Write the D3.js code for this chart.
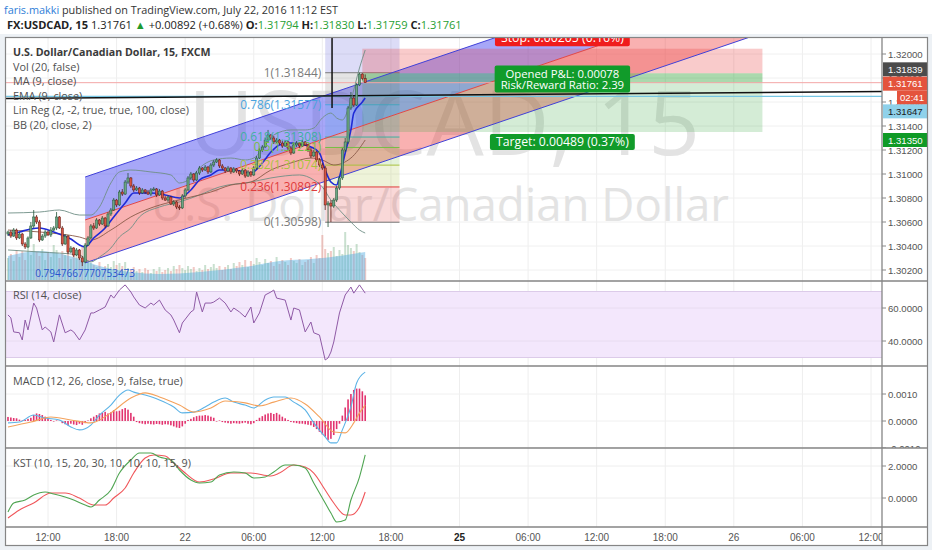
<!DOCTYPE html>
<html>
<head>
<meta charset="utf-8">
<title>USDCAD 15</title>
<script src="https://cdn.jsdelivr.net/npm/d3@7"></script>
<style>
  html, body { margin: 0; padding: 0; background: #fff; }
  svg { display: block; }
</style>
</head>
<body>
<div id="chart"></div>
<script>
// ---- 15 min bars, index 0 = Jul 21 08:30 ----
const opens = [
  1.30500, 1.30517, 1.30483, 1.30533, 1.30467, 1.30500, 1.30417, 1.30392, 1.30467, 1.30567,
  1.30642, 1.30600, 1.30450, 1.30483, 1.30517, 1.30492, 1.30533, 1.30550, 1.30642, 1.30550,
  1.30417, 1.30483, 1.30350, 1.30383, 1.30325, 1.30367, 1.30300, 1.30267, 1.30408, 1.30467,
  1.30567, 1.30550, 1.30617, 1.30583, 1.30633, 1.30567, 1.30667, 1.30700, 1.30783, 1.30742,
  1.30850, 1.30833, 1.30933, 1.30967, 1.30900, 1.30867, 1.30883, 1.30842, 1.30867, 1.30850,
  1.30833, 1.30867, 1.30875, 1.30825, 1.30858, 1.30800, 1.30783, 1.30808, 1.30750, 1.30767,
  1.30725, 1.30717, 1.30817, 1.30867, 1.30967, 1.31000, 1.30950, 1.31008, 1.31050, 1.31033,
  1.31058, 1.31017, 1.31075, 1.31100, 1.31117, 1.31067, 1.31050, 1.31025, 1.31050, 1.31017,
  1.31042, 1.31025, 1.31000, 1.31033, 1.30983, 1.31017, 1.30992, 1.31050, 1.31133, 1.31200,
  1.31225, 1.31283, 1.31325, 1.31300, 1.31267, 1.31283, 1.31258, 1.31233, 1.31267, 1.31217,
  1.31175, 1.31242, 1.31258, 1.31233, 1.31267, 1.31242, 1.31200, 1.31150, 1.31183, 1.31117,
  1.31075, 1.31050, 1.30742, 1.30758, 1.30733, 1.30783, 1.30883, 1.30967, 1.31200, 1.31267,
  1.31550, 1.31633, 1.31575, 1.31742, 1.31833, 1.31794];
const highs = [
  1.30527, 1.30533, 1.30550, 1.30545, 1.30517, 1.30510, 1.30433, 1.30480, 1.30600, 1.30700,
  1.30658, 1.30617, 1.30500, 1.30533, 1.30528, 1.30558, 1.30567, 1.30683, 1.30650, 1.30567,
  1.30500, 1.30492, 1.30400, 1.30392, 1.30383, 1.30375, 1.30317, 1.30425, 1.30483, 1.30583,
  1.30592, 1.30633, 1.30625, 1.30650, 1.30642, 1.30683, 1.30717, 1.30800, 1.30792, 1.30867,
  1.30875, 1.30950, 1.31008, 1.30975, 1.30917, 1.30900, 1.30892, 1.30883, 1.30875, 1.30867,
  1.30883, 1.30892, 1.30883, 1.30875, 1.30867, 1.30817, 1.30825, 1.30817, 1.30783, 1.30775,
  1.30742, 1.30833, 1.30883, 1.30983, 1.31017, 1.31008, 1.31025, 1.31067, 1.31058, 1.31075,
  1.31067, 1.31092, 1.31117, 1.31133, 1.31125, 1.31083, 1.31058, 1.31067, 1.31058, 1.31058,
  1.31050, 1.31033, 1.31050, 1.31042, 1.31033, 1.31025, 1.31067, 1.31150, 1.31217, 1.31242,
  1.31300, 1.31367, 1.31333, 1.31317, 1.31300, 1.31292, 1.31275, 1.31283, 1.31275, 1.31233,
  1.31258, 1.31275, 1.31267, 1.31283, 1.31275, 1.31250, 1.31217, 1.31200, 1.31192, 1.31133,
  1.31092, 1.31067, 1.30775, 1.30783, 1.30800, 1.30900, 1.30983, 1.31217, 1.31300, 1.31567,
  1.31683, 1.31650, 1.31758, 1.31844, 1.31840, 1.31830];
const lows = [
  1.30483, 1.30467, 1.30475, 1.30450, 1.30458, 1.30400, 1.30375, 1.30383, 1.30458, 1.30550,
  1.30583, 1.30433, 1.30442, 1.30467, 1.30483, 1.30475, 1.30525, 1.30533, 1.30542, 1.30400,
  1.30408, 1.30333, 1.30342, 1.30308, 1.30317, 1.30283, 1.30233, 1.30258, 1.30400, 1.30458,
  1.30533, 1.30542, 1.30567, 1.30575, 1.30550, 1.30558, 1.30650, 1.30692, 1.30725, 1.30733,
  1.30817, 1.30825, 1.30917, 1.30883, 1.30850, 1.30858, 1.30825, 1.30833, 1.30833, 1.30825,
  1.30817, 1.30858, 1.30808, 1.30817, 1.30783, 1.30775, 1.30767, 1.30742, 1.30733, 1.30708,
  1.30700, 1.30708, 1.30800, 1.30858, 1.30950, 1.30933, 1.30942, 1.30992, 1.31017, 1.31025,
  1.31000, 1.31008, 1.31058, 1.31092, 1.31050, 1.31033, 1.31008, 1.31017, 1.31000, 1.31008,
  1.31008, 1.30983, 1.30992, 1.30967, 1.30975, 1.30975, 1.30983, 1.31033, 1.31125, 1.31183,
  1.31217, 1.31267, 1.31283, 1.31250, 1.31258, 1.31242, 1.31217, 1.31225, 1.31200, 1.31158,
  1.31167, 1.31225, 1.31217, 1.31225, 1.31233, 1.31183, 1.31133, 1.31142, 1.31100, 1.31058,
  1.31033, 1.30700, 1.30558, 1.30600, 1.30717, 1.30767, 1.30867, 1.30950, 1.31183, 1.31250,
  1.31533, 1.31558, 1.31567, 1.31733, 1.31780, 1.31759];
const closes = [
  1.30517, 1.30483, 1.30533, 1.30467, 1.30500, 1.30417, 1.30392, 1.30467, 1.30567, 1.30642,
  1.30600, 1.30450, 1.30483, 1.30517, 1.30492, 1.30533, 1.30550, 1.30642, 1.30550, 1.30417,
  1.30483, 1.30350, 1.30383, 1.30325, 1.30367, 1.30300, 1.30267, 1.30408, 1.30467, 1.30567,
  1.30550, 1.30617, 1.30583, 1.30633, 1.30567, 1.30667, 1.30700, 1.30783, 1.30742, 1.30850,
  1.30833, 1.30933, 1.30967, 1.30900, 1.30867, 1.30883, 1.30842, 1.30867, 1.30850, 1.30833,
  1.30867, 1.30875, 1.30825, 1.30858, 1.30800, 1.30783, 1.30808, 1.30750, 1.30767, 1.30725,
  1.30717, 1.30817, 1.30867, 1.30967, 1.31000, 1.30950, 1.31008, 1.31050, 1.31033, 1.31058,
  1.31017, 1.31075, 1.31100, 1.31117, 1.31067, 1.31050, 1.31025, 1.31050, 1.31017, 1.31042,
  1.31025, 1.31000, 1.31033, 1.30983, 1.31017, 1.30992, 1.31050, 1.31133, 1.31200, 1.31225,
  1.31283, 1.31325, 1.31300, 1.31267, 1.31283, 1.31258, 1.31233, 1.31267, 1.31217, 1.31175,
  1.31242, 1.31258, 1.31233, 1.31267, 1.31242, 1.31200, 1.31150, 1.31183, 1.31117, 1.31075,
  1.31050, 1.30742, 1.30758, 1.30733, 1.30783, 1.30883, 1.30967, 1.31200, 1.31267, 1.31550,
  1.31633, 1.31575, 1.31742, 1.31833, 1.31794, 1.31761];
const volumes = [
  44, 52, 38, 60, 46, 58, 40, 66, 50, 72,
  56, 48, 62, 40, 54, 46, 70, 60, 44, 58,
  50, 64, 42, 56, 48, 60, 68, 52, 40, 34,
  30, 26, 36, 22, 28, 32, 26, 38, 30, 34,
  28, 36, 24, 20, 26, 18, 22, 16, 24, 20,
  14, 22, 18, 26, 16, 20, 24, 18, 28, 22,
  30, 24, 20, 28, 22, 26, 18, 24, 20, 30,
  22, 26, 32, 24, 28, 20, 26, 30, 22, 34,
  28, 36, 30, 40, 26, 38, 32, 44, 36, 30,
  42, 34, 38, 28, 46, 32, 40, 36, 30, 44,
  38, 34, 42, 30, 36, 40, 46, 34, 50, 44,
  90, 62, 54, 58, 66, 48, 60, 52, 96, 70,
  64, 58, 72, 56, 50, 44];
const macdHist = [
  0.00015, 0.00013, 0.00011, 0.0001, 0.00005, 0.00002, 0.00004, 0.00008,
  0.00012, 0.00022, 0.00028, 0.00026, 0.00022, 0.00016, 0.0001,
  0.00004, -0.00002, 0.00002, 0.00001,
  -0.00008, -0.00012, -0.00016, -0.0001, -0.00013, -0.00015, -0.0001, -0.00014, -0.00008,
  0.00002, 0.0001, 0.00016, 0.00022, 0.00028, 0.0003, 0.00034, 0.00028, 0.00032, 0.0004,
  0.00036, 0.00038, 0.00044, 0.00048, 0.00042, 0.0003, 0.00016,
  -0.00004, -0.00008, -0.0001, -0.00012, -0.0001, -0.00012, -0.00013, -0.00011, -0.00012,
  -0.00014, -0.00012, -0.00013, -0.00016, -0.0002, -0.00024, -0.00026, -0.0002, -0.0001,
  0.00004, 0.00008, 0.00014, 0.00018, 0.0002, 0.0002, 0.00022, 0.0002, 0.00016, 0.00012,
  -0.00002, 0.00002, -0.00004, -0.00006, -0.00008, -0.0001, -0.00008, -0.00009, -0.0001,
  -0.00008, -0.00006, -0.0001, -0.00012, -0.00008,
  0.00004, 0.00012, 0.00018, 0.00024, 0.00028, 0.0003, 0.00026, 0.0003, 0.00024, 0.00016,
  0.0001, 0.00004,
  -0.00004, -0.00006, -0.00008, -0.0001, -0.0001, -0.00012, -0.00014, -0.00016,
  -0.00022, -0.0003, -0.0004, -0.0005, -0.00058, -0.0007, -0.00066, -0.00052, -0.0003,
  -0.0001, 0.0002, 0.0005, 0.0008, 0.001, 0.00115, 0.0012, 0.0012, 0.0011, 0.00095];

// indicator readings (bar index, value)
const maIdx = [0, 4, 8, 11, 16, 22, 25, 27, 30, 34, 37, 41, 44, 50, 55, 60, 64, 67, 71, 74,
  79, 85, 89, 92, 95, 99, 102, 106, 109, 111, 113, 115, 116, 118, 120, 121, 124, 125];
const maVal = [1.30492, 1.30517, 1.30542, 1.30550, 1.30517, 1.30458, 1.30408, 1.30392, 1.30467, 1.30550,
  1.30642, 1.30758, 1.30842, 1.30842, 1.30825, 1.30800, 1.30867, 1.30950, 1.30992, 1.31033,
  1.31033, 1.31008, 1.31092, 1.31183, 1.31242, 1.31258, 1.31250, 1.31225, 1.31175, 1.31033,
  1.30933, 1.30908, 1.30975, 1.31175, 1.31367, 1.31508, 1.31600, 1.31633];
const bbUpIdx = [0, 11, 18, 25, 29, 32, 36, 39, 43, 50, 57, 60, 64, 67, 72, 78, 83, 86, 90, 93,
  99, 104, 107, 110, 113, 115, 117, 120, 123, 125];
const bbUpVal = [1.30675, 1.30683, 1.30700, 1.30658, 1.30658, 1.30725, 1.30925, 1.31017, 1.31033, 1.31017,
  1.30992, 1.30925, 1.30967, 1.31050, 1.31117, 1.31133, 1.31117, 1.31133, 1.31242, 1.31325,
  1.31367, 1.31367, 1.31383, 1.31467, 1.31508, 1.31467, 1.31450, 1.31617, 1.31883, 1.32033];
const bbLoIdx = [0, 11, 25, 29, 32, 36, 39, 43, 46, 53, 60, 67, 74, 85, 92, 102, 107, 110, 113, 116,
  120, 123, 125];
const bbLoVal = [1.30367, 1.30350, 1.30325, 1.30267, 1.30308, 1.30383, 1.30475, 1.30550, 1.30642, 1.30725,
  1.30767, 1.30825, 1.30892, 1.30933, 1.30967, 1.30992, 1.30950, 1.30892, 1.30783, 1.30700,
  1.30600, 1.30533, 1.30508];
const bbMidIdx = [0, 15, 25, 29, 36, 43, 50, 57, 64, 71, 78, 85, 92, 99, 106, 110, 114, 120, 125];
const bbMidVal = [1.30533, 1.30508, 1.30475, 1.30450, 1.30533, 1.30642, 1.30717, 1.30767, 1.30808, 1.30850,
  1.30908, 1.30933, 1.31033, 1.31092, 1.31133, 1.31117, 1.31075, 1.31133, 1.31283];
const volMaIdx = [0, 11, 25, 32, 43, 53, 67, 85, 95, 106, 116, 125];
const volMaVal = [48, 58, 42, 28, 16, 12, 16, 28, 38, 42, 48, 56];

const rsiIdx = [0, 1, 2, 4, 5, 6, 7, 9, 10, 12, 13, 15, 16, 18, 20, 22, 23, 25, 27, 29,
  30, 32, 34, 36, 37, 39, 41, 43, 44, 46, 48, 50, 51, 53, 55, 57, 58, 60, 61, 64,
  65, 66, 68, 69, 71, 72, 74, 76, 78, 79, 81, 83, 85, 86, 88, 90, 92, 93, 94, 97,
  99, 100, 102, 104, 106, 107, 109, 111, 112, 113, 114, 116, 118, 120, 121, 123, 125];
const rsiVal = [55.8, 54, 45.5, 45, 40.6, 52.7, 46.7, 63, 60, 46.7, 48.5, 45.5, 39.4, 55.8, 45, 46.7, 45.5, 40.6, 46.7, 57,
  57, 58.8, 60.6, 67.9, 66, 70.9, 74, 69.7, 66.7, 61.8, 60, 63, 61.8, 64.8, 58.8, 55.8, 52.7, 45, 50.9, 57.6,
  58.8, 69.7, 57.6, 63, 63, 63.6, 66, 63, 57.6, 60, 57.6, 54.5, 60.6, 50.9, 57, 67.9, 69.7, 70.9, 66, 64.8,
  52.7, 60, 58.8, 45.5, 51.5, 45, 43.6, 28.5, 29.7, 33.3, 39.4, 57, 67.9, 72.7, 69, 74, 69];

const macdIdx = [0, 4, 9, 13, 18, 22, 25, 29, 32, 36, 39, 42, 44, 48, 53, 58, 61, 65, 69, 72,
  76, 79, 83, 86, 90, 93, 97, 100, 104, 107, 111, 113, 115, 117, 120, 122, 125];
const macdVal = [-0.00007, -0.00004, 0.00022, 0.00011, 0.00004, -0.00022, -0.00033, -0.00015, 0.00022, 0.00059,
  0.00096, 0.00115, 0.00107, 0.00096, 0.00078, 0.00052, 0.0003, 0.00033, 0.00052, 0.0007,
  0.00085, 0.0007, 0.00059, 0.00048, 0.00078, 0.00089, 0.00089, 0.0007, 0.00041, -0.00007,
  -0.00059, -0.00081, -0.00081, -0.00033, 0.00052, 0.00141, 0.00181];
const signalIdx = [0, 8, 15, 22, 29, 36, 43, 48, 53, 60, 65, 71, 76, 83, 88, 93, 99, 104, 109, 114,
  118, 121, 123, 125];
const signalVal = [-0.00022, -0.00004, 0.00015, 0.00004, -0.00007, 0.0003, 0.00085, 0.00104, 0.00089, 0.00059,
  0.00033, 0.00048, 0.00074, 0.00067, 0.00056, 0.0007, 0.00085, 0.00063, 0.00015, -0.00041,
  -0.00044, -0.00007, 0.0003, 0.00059];

const kstIdx = [0, 2, 6, 9, 13, 16, 20, 23, 27, 29, 32, 36, 39, 43, 46, 50, 53, 57, 60, 64,
  67, 71, 74, 79, 83, 86, 90, 93, 97, 100, 104, 107, 110, 113, 115, 118, 120, 123, 125];
const kstVal = [-0.875, -0.31, -0.125, 0.19, 0.375, 0.25, 0.06, -0.125, -0.44, -0.56,
  -0.125, 0.5, 1.56, 2.375, 2.81, 2.81, 2.56, 2.375, 1.75, 1.125,
  0.94, 1.0, 1.44, 1.625, 1.56, 1.25, 1.31, 1.625, 2.06, 2.06,
  1.875, 0.94, 0, -0.94, -1.5, -1.375, -0.125, 1.31, 2.69];
const kstSigIdx = [0, 4, 9, 15, 20, 25, 30, 34, 37, 41, 44, 48, 51, 55, 58, 62, 67, 72, 78, 85,
  92, 95, 100, 104, 107, 111, 114, 118, 120, 123, 125];
const kstSigVal = [-1.25, -0.75, -0.31, 0.31, 0.31, 0, -0.44, -0.44, 0, 0.625,
  1.56, 2.5, 2.69, 2.625, 2.19, 1.56, 1.0, 1.19, 1.56, 1.56,
  1.375, 1.56, 2.06, 1.94, 1.56, 0.5, -0.31, -1.06, -1.06, -0.56, 0.375];

// drawings
const linRegIdx = [27, 125];
const linRegMid = [1.30617, 1.31410];
const linRegDev = 0.00358;
const pearsonR = "0.7947667770753473";
const fibLevels = [0, 0.236, 0.382, 0.5, 0.618, 0.786, 1, 1.618];
const fibPrices = [1.30598, 1.30892, 1.31074, 1.31221, 1.31308, 1.31577, 1.31844, 1.32614];
const fibColors = ["#7a7a7a", "#e03c3c", "#a9c23f", "#76bf45", "#3fb0a0", "#4aa3df", "#7a7a7a", "#5252d6"];
const fibIdx = [111, 137];
const posIdx = [124, 264];
const posEntry = 1.31839, posStop = 1.32044, posTarget = 1.31350;
const lastPrice = 1.31761;
const levelLine = 1.31647;
const trendIdx = [-1, 306];
const trendPrice = [1.31629, 1.31688];
const vLineIdx = 113.4;
const vLinePrice = [1.3225, 1.31550];

// axes
const priceTicks = [1.302, 1.304, 1.306, 1.308, 1.310, 1.312, 1.314, 1.316, 1.318, 1.320];
const rsiTicks = [40, 60];
const macdTicks = [-0.001, 0, 0.001];
const kstTicks = [0, 2];
const timeTickIdx = [14, 38, 62, 86, 110, 134, 158, 182, 206, 230, 254, 278, 302];
const timeTickText = ["12:00", "18:00", "22", "06:00", "12:00", "18:00", "25", "06:00", "12:00", "18:00", "26", "06:00", "12:00"];
const weekStarts = ["25"];

const priceTags = [
  { text: "1.31839", price: 1.31839, bg: "#4b4b4b", fg: "#fff" },
  { text: "1.31761", price: 1.31761, bg: "#e4533d", fg: "#fff" },
  { text: "02:41", price: 1.31761, bg: "#e4533d", fg: "#fff" },
  { text: "1.31647", price: 1.31647, bg: "#8fd1ea", fg: "#1a1a1a" },
  { text: "1.31350", price: 1.31350, bg: "#0f9a26", fg: "#fff" }
];

// ---------------- layout ----------------
const W = 932, H = 550;
const plotL = 5, plotR = 882, axisR = 928;
const panes = {
  main: { top: 37, bottom: 281 },
  rsi: { top: 281, bottom: 366 },
  macd: { top: 366, bottom: 448 },
  kst: { top: 448, bottom: 527 }
};
const timeBottom = 546;
const tagNudge = [-4, 1, 15, 15, 8];

const svg = d3.select("#chart").append("svg")
  .attr("width", W).attr("height", H)
  .style("font-family", "'Open Sans', 'Noto Sans', sans-serif");

// scales
const x = d3.scaleLinear().domain([14, 302]).range([48, 871]);
const y = d3.scaleLinear().domain([1.302, 1.320]).range([270, 54]);
const yVol = d3.scaleLinear().domain([0, 100]).range([280, 230]);
const yRsi = d3.scaleLinear().domain([40, 60]).range([341, 308]);
const yMacd = d3.scaleLinear().domain([0, 0.001]).range([421, 394]);
const yKst = d3.scaleLinear().domain([0, 2]).range([498, 466]);

function fitWidth(sel, target) {
  const len = sel.node().getComputedTextLength();
  if (len > 0) sel.attr("font-size", +sel.attr("font-size") * target / len);
  return sel;
}

// backgrounds
svg.append("rect").attr("width", W).attr("height", H).attr("fill", "#fff");
svg.append("rect").attr("x", 0).attr("y", 34).attr("width", W).attr("height", H - 34).attr("fill", "#edf1f5");
svg.append("rect").attr("x", plotL).attr("y", panes.main.top)
  .attr("width", axisR - plotL).attr("height", timeBottom - panes.main.top).attr("fill", "#fff");

// clip paths
const defs = svg.append("defs");
Object.entries(panes).forEach(([k, p]) => {
  defs.append("clipPath").attr("id", "clip-" + k).append("rect")
    .attr("x", plotL).attr("y", p.top).attr("width", plotR - plotL).attr("height", p.bottom - p.top);
  defs.append("clipPath").attr("id", "clipax-" + k).append("rect")
    .attr("x", plotR).attr("y", p.top).attr("width", axisR - plotR).attr("height", p.bottom - p.top);
});
defs.append("clipPath").attr("id", "clip-time").append("rect")
  .attr("x", plotL).attr("y", panes.kst.bottom).attr("width", plotR - plotL).attr("height", timeBottom - panes.kst.bottom);

// header
const h1 = svg.append("text").attr("x", 4).attr("y", 14).attr("font-size", 12).attr("fill", "#333");
h1.append("tspan").attr("fill", "#2f7ed8").text("faris.makki");
h1.append("tspan").text(" published on TradingView.com, July 22, 2016 11:12 EST");
fitWidth(h1, 334);

const h2 = svg.append("text").attr("x", 7).attr("y", 29).attr("font-size", 12).attr("fill", "#222");
const h2parts = [
  ["FX:USDCAD, 15", "bold", "#222"], [" 1.31761 ", "normal", "#222"], ["\u25B2", "normal", "#1e9a2e"],
  [" +0.00892 (+0.68%) ", "normal", "#222"], ["O:", "bold", "#222"], ["1.31794", "normal", "#27a033"],
  [" H:", "bold", "#222"], ["1.31830", "normal", "#27a033"], [" L:", "bold", "#222"], ["1.31759", "normal", "#27a033"],
  [" C:", "bold", "#222"], ["1.31761", "normal", "#27a033"]
];
h2parts.forEach(p => h2.append("tspan").attr("font-weight", p[1]).attr("fill", p[2]).text(p[0]));
fitWidth(h2, 455);

// vertical grid lines through all panes
const gridG = svg.append("g");
gridG.selectAll("line.vg").data(timeTickIdx).join("line")
  .attr("x1", d => x(d)).attr("x2", d => x(d))
  .attr("y1", panes.main.top).attr("y2", panes.kst.bottom)
  .attr("stroke", "#eeeeee").attr("stroke-width", 1);

// ================= MAIN PANE =================
const main = svg.append("g").attr("clip-path", "url(#clip-main)");
main.selectAll("line.hg").data(priceTicks).join("line")
  .attr("x1", plotL).attr("x2", plotR).attr("y1", d => y(d)).attr("y2", d => y(d))
  .attr("stroke", "#f0f0f0");

// watermark
const wm1 = main.append("text").attr("x", 444).attr("y", 155).attr("text-anchor", "middle")
  .attr("font-size", 80).attr("fill", "#e3e3e3").attr("font-family", "'Open Sans', sans-serif").text("USDCAD, 15");
fitWidth(wm1, 512);
const wm2 = main.append("text").attr("x", 440).attr("y", 221).attr("text-anchor", "middle")
  .attr("font-size", 42).attr("fill", "#e3e3e3").attr("font-family", "'Open Sans', sans-serif").text("U.S. Dollar/Canadian Dollar");
fitWidth(wm2, 578);

const bars = closes.map((c, i) => ({ i, o: opens[i], h: highs[i], l: lows[i], c, v: volumes[i], hist: macdHist[i] }));

// volume
main.append("g").selectAll("rect").data(bars).join("rect")
  .attr("x", d => x(d.i) - 1).attr("width", 2)
  .attr("y", d => yVol(d.v)).attr("height", d => yVol(0) - yVol(d.v))
  .attr("fill", d => d.c >= d.o ? "rgba(90,160,110,0.33)" : "rgba(215,90,80,0.33)");
main.append("path").datum(d3.zip(volMaIdx, volMaVal))
  .attr("d", d3.area().x(d => x(d[0])).y0(yVol(0)).y1(d => yVol(d[1])).curve(d3.curveMonotoneX))
  .attr("fill", "rgba(80,170,225,0.45)");

// linear regression channel (extended to the right)
const lrSlope = (linRegMid[1] - linRegMid[0]) / (linRegIdx[1] - linRegIdx[0]);
const lrPts = [linRegIdx[0], 306].map(i => [i, linRegMid[0] + lrSlope * (i - linRegIdx[0])]);
main.append("path").datum(lrPts)
  .attr("d", d3.area().x(d => x(d[0])).y0(d => y(d[1])).y1(d => y(d[1] + linRegDev)))
  .attr("fill", "rgba(60,60,240,0.45)");
main.append("path").datum(lrPts)
  .attr("d", d3.area().x(d => x(d[0])).y0(d => y(d[1] - linRegDev)).y1(d => y(d[1])))
  .attr("fill", "rgba(240,60,60,0.40)");

// fibonacci bands
const fibG = main.append("g");
d3.range(fibLevels.length - 1).forEach(k => {
  fibG.append("rect")
    .attr("x", x(fibIdx[0])).attr("width", x(fibIdx[1]) - x(fibIdx[0]))
    .attr("y", y(fibPrices[k + 1])).attr("height", y(fibPrices[k]) - y(fibPrices[k + 1]))
    .attr("fill", fibColors[k + 1]).attr("fill-opacity", 0.2);
});

// short position tool
const px0 = x(posIdx[0]), pxw = x(posIdx[1]) - x(posIdx[0]);
main.append("rect").attr("x", px0).attr("width", pxw)
  .attr("y", y(posStop)).attr("height", y(posEntry) - y(posStop)).attr("fill", "rgba(235,70,70,0.28)");
main.append("rect").attr("x", px0).attr("width", pxw)
  .attr("y", y(posEntry)).attr("height", y(posTarget) - y(posEntry)).attr("fill", "rgba(60,170,70,0.22)");
main.append("rect").attr("x", px0).attr("width", pxw)
  .attr("y", y(posEntry)).attr("height", y(lastPrice) - y(posEntry)).attr("fill", "rgba(60,170,70,0.28)");

// channel lines
const lineOf = (dy) => d3.line().x(d => x(d[0])).y(d => y(d[1] + dy));
main.append("path").datum(lrPts).attr("d", lineOf(linRegDev)).attr("fill", "none").attr("stroke", "#4040d8").attr("stroke-width", 1);
main.append("path").datum(lrPts).attr("d", lineOf(-linRegDev)).attr("fill", "none").attr("stroke", "#4040d8").attr("stroke-width", 1);
main.append("path").datum(lrPts).attr("d", lineOf(0)).attr("fill", "none").attr("stroke", "#e04848").attr("stroke-width", 1);

// fib lines
fibG.selectAll("line").data(fibPrices).join("line")
  .attr("x1", x(fibIdx[0])).attr("x2", x(fibIdx[1]))
  .attr("y1", d => y(d)).attr("y2", d => y(d))
  .attr("stroke", (d, k) => fibColors[k]).attr("stroke-width", 1);

// horizontal lines
main.append("line").attr("x1", plotL).attr("x2", plotR).attr("y1", y(lastPrice)).attr("y2", y(lastPrice))
  .attr("stroke", "#f3a6a6").attr("stroke-width", 1);
main.append("line").attr("x1", plotL).attr("x2", plotR).attr("y1", y(levelLine)).attr("y2", y(levelLine))
  .attr("stroke", "#76c6e4").attr("stroke-width", 1.2);
main.append("line").attr("x1", x(trendIdx[0])).attr("x2", x(trendIdx[1]))
  .attr("y1", y(trendPrice[0])).attr("y2", y(trendPrice[1]))
  .attr("stroke", "#111").attr("stroke-width", 1.5);

// Bollinger bands + MA
const sLine = (yS) => d3.line().x(d => x(d[0])).y(d => yS(d[1])).curve(d3.curveMonotoneX);
main.append("path").datum(d3.zip(bbUpIdx, bbUpVal)).attr("d", sLine(y)).attr("fill", "none").attr("stroke", "#6f8f86").attr("stroke-width", 0.9);
main.append("path").datum(d3.zip(bbLoIdx, bbLoVal)).attr("d", sLine(y)).attr("fill", "none").attr("stroke", "#6f8f86").attr("stroke-width", 0.9);
main.append("path").datum(d3.zip(bbMidIdx, bbMidVal)).attr("d", sLine(y)).attr("fill", "none").attr("stroke", "#8a5a48").attr("stroke-width", 0.9);
main.append("path").datum(d3.zip(maIdx, maVal)).attr("d", sLine(y)).attr("fill", "none").attr("stroke", "#1f2bd6").attr("stroke-width", 1.6);

// candles
const up = { fill: "#6ba583", edge: "#225437" }, dn = { fill: "#d75442", edge: "#5b1a13" };
const cg = main.append("g").selectAll("g").data(bars).join("g");
cg.append("line")
  .attr("x1", d => x(d.i)).attr("x2", d => x(d.i)).attr("y1", d => y(d.h)).attr("y2", d => y(d.l))
  .attr("stroke", d => d.c >= d.o ? up.edge : dn.edge).attr("stroke-width", 0.8);
cg.append("rect")
  .attr("x", d => x(d.i) - 1.1).attr("width", 2.2)
  .attr("y", d => y(Math.max(d.o, d.c))).attr("height", d => Math.max(0.8, Math.abs(y(d.o) - y(d.c))))
  .attr("fill", d => d.c >= d.o ? up.fill : dn.fill)
  .attr("stroke", d => d.c >= d.o ? up.edge : dn.edge).attr("stroke-width", 0.5);

// vertical trend line
main.append("line").attr("x1", x(vLineIdx)).attr("x2", x(vLineIdx))
  .attr("y1", y(vLinePrice[0])).attr("y2", y(vLinePrice[1]))
  .attr("stroke", "#111").attr("stroke-width", 1.5);

// fib labels (levels up to 1 are inside the pane)
const fibShown = fibPrices.map((p, k) => ({ p, k })).filter(d => fibLevels[d.k] <= 1);
const fibLab = main.append("g").selectAll("text").data(fibShown).join("text")
  .attr("x", x(fibIdx[0]) - 4).attr("y", d => y(d.p) + 4).attr("text-anchor", "end")
  .attr("font-size", 11).attr("fill", d => fibColors[d.k])
  .text(d => `${fibLevels[d.k]}(${d.p.toFixed(5)})`);
{
  const ref = fibLab.filter(d => fibLevels[d.k] === 0.786);
  const fs = 11 * 81 / ref.node().getComputedTextLength();
  fibLab.attr("font-size", fs);
}

// pearson label
const rLab = main.append("text").attr("x", x(linRegIdx[0])).attr("y", 277).attr("text-anchor", "middle")
  .attr("font-size", 11).attr("fill", "#2a55d0").text(pearsonR);
fitWidth(rLab, 100);

// position labels
function boxLabel(lines, cx, cy, bg, width) {
  const g = main.append("g");
  const rect = g.append("rect").attr("fill", bg).attr("rx", 2);
  const lh = 11;
  const ts = lines.map((t, k) => g.append("text").attr("x", cx)
    .attr("y", cy + (k - (lines.length - 1) / 2) * lh + 4)
    .attr("text-anchor", "middle").attr("font-size", 12).attr("fill", "#fff").text(t));
  const fs = 12 * width / ts[0].node().getComputedTextLength();
  ts.forEach(t => t.attr("font-size", fs));
  const w = d3.max(ts, t => t.node().getComputedTextLength()) + 12;
  const h = lines.length * lh + 5;
  rect.attr("x", cx - w / 2).attr("y", cy - h / 2).attr("width", w).attr("height", h);
}
const posCx = x((posIdx[0] + posIdx[1]) / 2);
boxLabel(["Stop: 0.00205 (0.16%)"], posCx, y(posStop) - 10.5, "#f01c1c", 123);
boxLabel(["Opened P&L: 0.00078", "Risk/Reward Ratio: 2.39"], posCx, (y(posEntry) + y(lastPrice)) / 2 + 1, "#119b2a", 114);
boxLabel(["Target: 0.00489 (0.37%)"], posCx, y(posTarget) + 10, "#119b2a", 133);

// legend
const legendG = svg.append("g");
const title = legendG.append("text").attr("x", 13).attr("y", 56).attr("font-size", 12)
  .attr("font-weight", "bold").attr("fill", "#3a3a3a").text("U.S. Dollar/Canadian Dollar, 15, FXCM");
fitWidth(title, 198);
const legendLines = ["Vol (20, false)", "MA (9, close)", "EMA (9, close)", "Lin Reg (2, -2, true, true, 100, close)", "BB (20, close, 2)"];
const legTexts = legendG.selectAll("text.leg").data(legendLines).join("text").attr("class", "leg")
  .attr("x", 13).attr("y", (d, k) => 70.5 + k * 14.6).attr("font-size", 12).attr("fill", "#505050").text(d => d);
const legFs = 12 * 176 / legTexts.filter(d => d.startsWith("Lin")).node().getComputedTextLength();
legTexts.attr("font-size", legFs);

// ================= RSI =================
const rsiG = svg.append("g").attr("clip-path", "url(#clip-rsi)");
rsiG.append("rect").attr("x", plotL).attr("width", plotR - plotL)
  .attr("y", yRsi(70)).attr("height", yRsi(30) - yRsi(70)).attr("fill", "#f3e7fc");
rsiG.selectAll("line.b").data([70, 30]).join("line")
  .attr("x1", plotL).attr("x2", plotR).attr("y1", d => yRsi(d)).attr("y2", d => yRsi(d)).attr("stroke", "#dccbe9");
rsiG.selectAll("line.g").data(rsiTicks).join("line")
  .attr("x1", plotL).attr("x2", plotR).attr("y1", d => yRsi(d)).attr("y2", d => yRsi(d)).attr("stroke", "#e8dcf0");
rsiG.append("path").datum(d3.zip(rsiIdx, rsiVal))
  .attr("d", d3.line().x(d => x(d[0])).y(d => yRsi(d[1])))
  .attr("fill", "none").attr("stroke", "#8f5aa6").attr("stroke-width", 1);

// ================= MACD =================
const macdG = svg.append("g").attr("clip-path", "url(#clip-macd)");
macdG.selectAll("line.g").data(macdTicks).join("line")
  .attr("x1", plotL).attr("x2", plotR).attr("y1", d => yMacd(d)).attr("y2", d => yMacd(d)).attr("stroke", "#f0f0f0");
macdG.append("g").selectAll("rect").data(bars).join("rect")
  .attr("x", d => x(d.i) - 0.8).attr("width", 1.6)
  .attr("y", d => Math.min(yMacd(d.hist), yMacd(0)))
  .attr("height", d => Math.abs(yMacd(d.hist) - yMacd(0)))
  .attr("fill", "#e2336f");
macdG.append("path").datum(d3.zip(macdIdx, macdVal)).attr("d", sLine(yMacd))
  .attr("fill", "none").attr("stroke", "#5cb3e6").attr("stroke-width", 1.1);
macdG.append("path").datum(d3.zip(signalIdx, signalVal)).attr("d", sLine(yMacd))
  .attr("fill", "none").attr("stroke", "#f4a25c").attr("stroke-width", 1.1);

// ================= KST =================
const kstG = svg.append("g").attr("clip-path", "url(#clip-kst)");
kstG.selectAll("line.g").data(kstTicks).join("line")
  .attr("x1", plotL).attr("x2", plotR).attr("y1", d => yKst(d)).attr("y2", d => yKst(d)).attr("stroke", "#eeeeee");
kstG.append("path").datum(d3.zip(kstSigIdx, kstSigVal)).attr("d", sLine(yKst))
  .attr("fill", "none").attr("stroke", "#f0565a").attr("stroke-width", 1.1);
kstG.append("path").datum(d3.zip(kstIdx, kstVal)).attr("d", sLine(yKst))
  .attr("fill", "none").attr("stroke", "#4fa552").attr("stroke-width", 1.1);

// pane titles
const paneTitles = [["RSI (14, close)", 299], ["MACD (12, 26, close, 9, false, true)", 385], ["KST (10, 15, 20, 30, 10, 10, 10, 15, 9)", 467]];
svg.append("g").selectAll("text").data(paneTitles).join("text")
  .attr("x", 13).attr("y", d => d[1]).attr("font-size", legFs).attr("fill", "#505050").text(d => d[0]);

// ================= right axes =================
const axisFont = "'Liberation Sans', Arial, sans-serif";
function rightAxis(key, scale, ticks, fmt) {
  const g = svg.append("g").attr("clip-path", `url(#clipax-${key})`);
  g.selectAll("line").data(ticks).join("line")
    .attr("x1", plotR).attr("x2", plotR + 4).attr("y1", d => scale(d)).attr("y2", d => scale(d)).attr("stroke", "#888");
  g.selectAll("text").data(ticks).join("text")
    .attr("x", plotR + 6).attr("y", d => scale(d) + 3.5)
    .attr("font-family", axisFont).attr("font-size", 9.6).attr("fill", "#555").text(fmt);
}
rightAxis("main", y, priceTicks, d => d.toFixed(5));
rightAxis("rsi", yRsi, rsiTicks, d => d.toFixed(4));
rightAxis("macd", yMacd, macdTicks, d => d.toFixed(4));
rightAxis("kst", yKst, kstTicks, d => d.toFixed(4));

// price tags
const tagG = svg.append("g");
priceTags.forEach((t, k) => {
  const cy = y(t.price) + tagNudge[k];
  const short = t.text.indexOf(":") >= 0;
  const x0 = short ? 897 : plotR + 1;
  tagG.append("rect").attr("x", x0).attr("y", cy - 7).attr("width", axisR - x0 - 1).attr("height", 14).attr("fill", t.bg);
  tagG.append("text").attr("x", short ? 912 : plotR + 6).attr("y", cy + 3.5)
    .attr("text-anchor", short ? "middle" : "start")
    .attr("font-family", axisFont).attr("font-size", 9.6).attr("fill", t.fg).text(t.text);
});

// time axis
const timeG = svg.append("g").attr("clip-path", "url(#clip-time)");
timeG.selectAll("text").data(timeTickIdx).join("text")
  .attr("x", d => x(d)).attr("y", 541).attr("text-anchor", "middle")
  .attr("font-family", axisFont).attr("font-size", 10)
  .attr("font-weight", (d, k) => weekStarts.includes(timeTickText[k]) ? "bold" : "normal")
  .attr("fill", (d, k) => weekStarts.includes(timeTickText[k]) ? "#222" : "#555")
  .text((d, k) => timeTickText[k]);

// frame & separators
const frame = svg.append("g").attr("stroke", "#858585").attr("fill", "none");
frame.append("rect").attr("x", plotL + 0.5).attr("y", panes.main.top + 0.5)
  .attr("width", axisR - plotL - 1).attr("height", timeBottom - panes.main.top - 1).attr("stroke-width", 1.2);
frame.append("line").attr("x1", plotR).attr("x2", plotR).attr("y1", panes.main.top).attr("y2", timeBottom).attr("stroke-width", 1.3);
[panes.main.bottom, panes.rsi.bottom, panes.macd.bottom, panes.kst.bottom].forEach(v => {
  frame.append("line").attr("x1", plotL).attr("x2", axisR).attr("y1", v).attr("y2", v).attr("stroke-width", 1.5);
});
</script>
</body>
</html>
